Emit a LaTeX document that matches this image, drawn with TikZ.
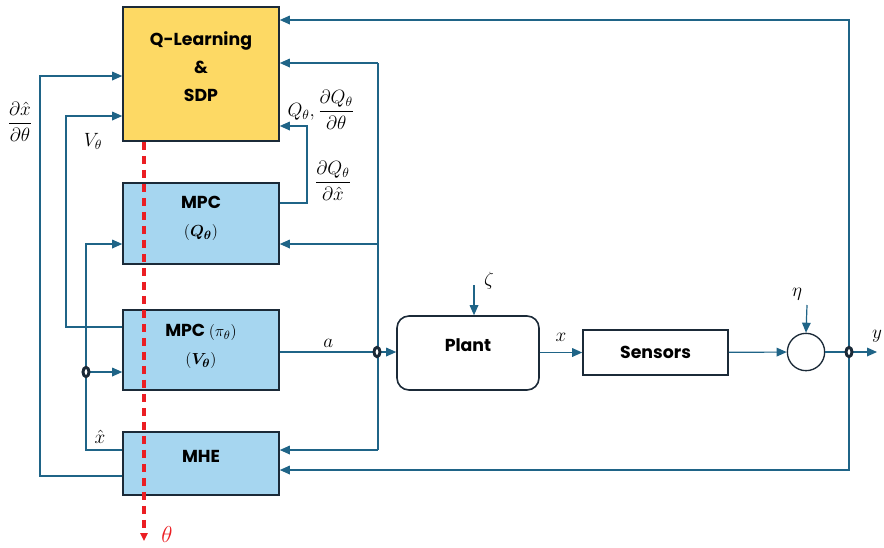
\documentclass[tikz,border=0pt]{standalone}
\usepackage{amsmath,amssymb,bm}
\usepackage{fontspec}
\setmainfont{Poppins}
\usetikzlibrary{arrows.meta,positioning,calc,shapes.geometric}
\definecolor{linkblue}{RGB}{31,100,135}
\definecolor{boxedge}{RGB}{27,42,56}
\definecolor{learnfill}{RGB}{253,217,100}
\definecolor{mpcfill}{RGB}{166,214,240}
\definecolor{thetared}{RGB}{235,30,35}
\tikzset{
  block/.style={draw=boxedge, line width=1.2pt, align=center, inner sep=0pt, font=\bfseries\fontsize{13}{21}\selectfont},
  learn/.style={block, fill=learnfill},
  ctrl/.style={block, fill=mpcfill},
  proc/.style={block, fill=white},
  sumnode/.style={circle, draw=boxedge, line width=1pt, fill=white, minimum size=28pt, inner sep=0pt},
  tap/.style={ellipse, draw=boxedge, fill=white, line width=2.2pt, minimum width=4.5pt, minimum height=7pt, inner sep=0pt},
  wire/.style={draw=linkblue, line width=0.9pt},
  sig/.style={wire, -{Triangle[length=7.5pt,width=6.5pt]}},
  theta/.style={draw=thetared, line width=2.6pt, dash pattern=on 6.5pt off 4pt, -{Triangle[length=6pt,width=5.5pt]}},
  mlabel/.style={font=\fontsize{14}{16}\selectfont, inner sep=1pt}
}
\begin{document}
\begin{tikzpicture}[x=0.75pt,y=-0.75pt]
\useasboundingbox (0,0) rectangle (884,547);

% blocks
\node[learn, minimum width=117pt, minimum height=100.5pt, text depth=11pt] (qsdp) at (201,74) {Q-Learning\\\&\\SDP};
\node[ctrl, minimum width=117pt, minimum height=60.75pt, text depth=10pt] (mpcq) at (201,223.5) {MPC\\$(\boldsymbol{Q_\theta})$};
\node[ctrl, minimum width=117pt, minimum height=60pt, text depth=8pt] (mpcpi) at (201,350) {MPC $(\pi_\theta)$\\$(\boldsymbol{V_\theta})$};
\node[ctrl, minimum width=117pt, minimum height=47.25pt, text depth=11pt] (mhe) at (201,463.5) {MHE};
\node[proc, rounded corners=9pt, minimum width=106.5pt, minimum height=55.5pt, text depth=12pt] (plant) at (468,353) {Plant};
\node[proc, minimum width=108.75pt, minimum height=33.75pt] (sens) at (655.5,352.5) {Sensors};
\node[sumnode] (sum) at (806,352) {};

% bend points
\coordinate (ytop) at (849,20);
\coordinate (ybot) at (849,470);
\coordinate (yout) at (877,352);
\coordinate (atop) at (378,63);
\coordinate (qin) at (378,244);
\coordinate (mhein) at (378,450);
\coordinate (dqr) at (307,203);
\coordinate (dqt) at (307,126);
\coordinate (dxl) at (40,476);
\coordinate (dxt) at (40,76);
\coordinate (vl) at (66,327);
\coordinate (vt) at (66,116);
\coordinate (xl) at (86,450);
\coordinate (xt) at (86,244);
\coordinate (zeta) at (474,285);
\coordinate (eta) at (807,305);
\coordinate (thetaend) at (144,541);
\coordinate (atap) at (377,352);
\coordinate (ytap) at (849,352);
\coordinate (xtap) at (86,372);

% signal paths
\draw[sig] (ytap) -- (ytop) -- (qsdp.east |- ytop);
\draw[sig] (ytap) -- (ybot) -- (mhe.east |- ybot);
\draw[wire] (sum) -- (ytap);
\draw[sig] (ytap) -- (yout) node[mlabel, above=6pt] {$y$};
\draw[wire] (atop) -- (mhein);
\draw[sig] (atop) -- (qsdp.east |- atop);
\draw[sig] (qin) -- (mpcq.east |- qin);
\draw[sig] (mhein) -- (mhe.east |- mhein);
\draw[wire] (mpcpi.east |- atap) -- node[mlabel, above=2pt, pos=0.5] {$a$} (atap);
\draw[sig] (atap) -- (plant.west |- atap);
\draw[sig] (plant.east |- sens) -- node[mlabel, above=7pt, pos=0.5] {$x$} (sens);
\draw[sig] (sens) -- (sum);
\draw[sig] (zeta) -- (plant.north -| zeta);
\draw[sig] (eta) -- (sum.north);
\draw[sig] (mpcq.east |- dqr) -- (dqr) -- (dqt) -- (qsdp.east |- dqt);
\draw[sig] (mhe.west |- dxl) -- (dxl) -- (dxt) -- (qsdp.west |- dxt);
\draw[sig] (mpcpi.west |- vl) -- (vl) -- (vt) -- (qsdp.west |- vt);
\draw[sig] (mhe.west |- xl) -- (xl) -- (xt) -- (mpcq.west |- xt);
\draw[sig] (xtap) -- (mpcpi.west |- xtap);

% junctions
\node[tap] at (atap) {};
\node[tap] at (ytap) {};
\node[tap] at (xtap) {};

% labels
\node[mlabel] at (489,281) {$\zeta$};
\node[mlabel] at (797,294) {$\eta$};
\node[mlabel] at (100,437) {$\hat{x}$};
\node[mlabel] at (93,141) {$V_\theta$};
\node[mlabel] at (20,122) {$\dfrac{\partial\hat{x}}{\partial\theta}$};
\node[mlabel] at (321,110) {$Q_\theta,\dfrac{\partial Q_\theta}{\partial\theta}$};
\node[mlabel] at (333,181) {$\dfrac{\partial Q_\theta}{\partial\hat{x}}$};

% parameter flow
\draw[theta] (qsdp.south -| thetaend) -- (thetaend);
\node[mlabel, text=thetared, font=\fontsize{17}{19}\selectfont] at (167,534) {$\theta$};
\end{tikzpicture}
\end{document}
